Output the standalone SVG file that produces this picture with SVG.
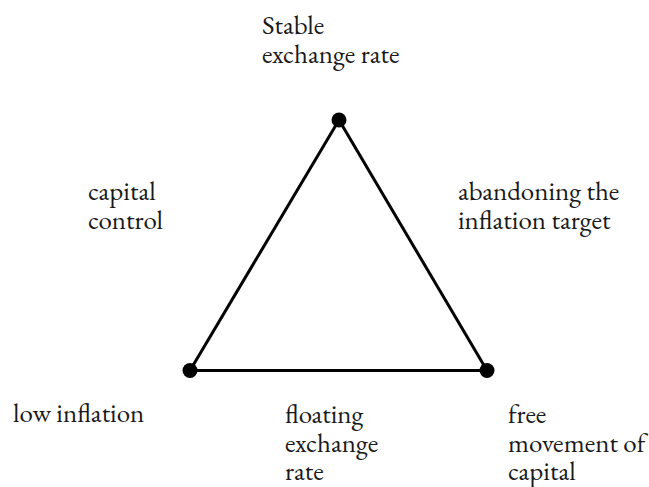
<svg xmlns="http://www.w3.org/2000/svg" width="649" height="487" viewBox="0 0 649 487">
<style>
.t{font-family:'EB Garamond','Times New Roman',serif;font-size:27px;fill:#1a1a1a}
.edge{stroke:#000;stroke-width:3;fill:none}
.dot{fill:#000}
</style>
<rect width="649" height="487" fill="#fff"/>
<g id="connectors">
<line class="edge" x1="339" y1="120" x2="190" y2="370.5"/>
<line class="edge" x1="339" y1="120" x2="487" y2="370.5"/>
<line class="edge" x1="190" y1="370.5" x2="487" y2="370.5"/>
</g>
<g id="node-top">
<circle class="dot" cx="339" cy="120" r="7.5"/>
<text class="t" x="262" y="34">Stable<tspan x="262" y="63">exchange rate</tspan></text>
</g>
<g id="node-left">
<circle class="dot" cx="190" cy="370.5" r="7.5"/>
<text class="t" x="13" y="422">low inflation</text>
</g>
<g id="node-right">
<circle class="dot" cx="487" cy="370.5" r="7.5"/>
<text class="t" x="508" y="423">free<tspan x="508" y="452">movement of</tspan><tspan x="508" y="480">capital</tspan></text>
</g>
<g id="label-left-edge">
<text class="t" x="88" y="200">capital<tspan x="88" y="229">control</tspan></text>
</g>
<g id="label-right-edge">
<text class="t" x="458" y="200">abandoning the<tspan x="458" y="229">inflation target</tspan></text>
</g>
<g id="label-bottom-edge">
<text class="t" x="285" y="423">floating<tspan x="285" y="452">exchange</tspan><tspan x="285" y="480">rate</tspan></text>
</g>
</svg>
